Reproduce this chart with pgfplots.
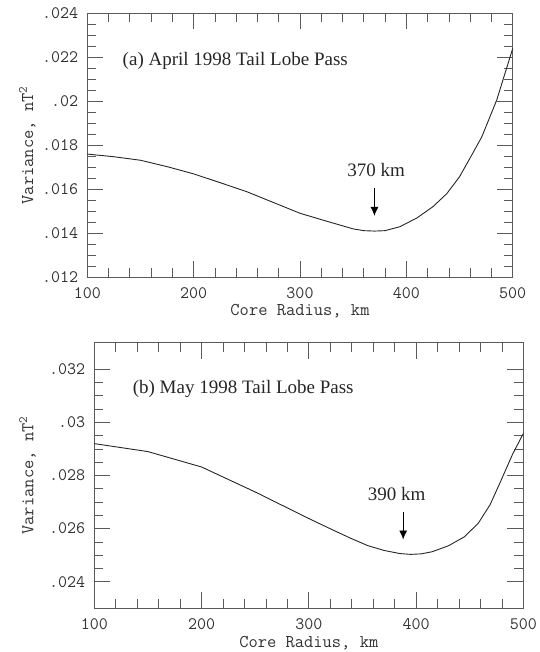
\documentclass[border=0pt]{standalone}
\usepackage{fontspec}
\setmainfont{Liberation Serif}
\usepackage{pgfplots}
\pgfplotsset{compat=1.18}
\usetikzlibrary{arrows.meta}

\definecolor{axgray}{HTML}{5A5A5A}
\definecolor{txtgray}{HTML}{333333}

\pgfplotstableread{
r var
100 .01760
125 .01748
150 .01732
175 .01703
200 .01670
225 .01630
250 .01589
275 .01540
300 .01491
325 .01455
350 .01420
360 .01412
370 .01410
380 .01412
394 .01430
410 .01470
425 .01521
438 .01580
450 .01657
462 .01760
471 .01839
485 .02006
500 .02240
}\aprdata

\pgfplotstableread{
r var
100 .02920
150 .02890
200 .02832
225 .02785
250 .02738
275 .02688
300 .02638
325 .02590
340 .02562
355 .02536
370 .02518
385 .02506
395 .02503
405 .02505
415 .02513
430 .02535
445 .02569
458 .02620
469 .02690
478 .02770
490 .02880
500 .02958
}\maydata

\pgfplotsset{
  panel/.style={
    scale only axis,
    xmin=100, xmax=500,
    xtick={100,200,300,400,500},
    minor x tick num=4,
    minor y tick num=3,
    scaled y ticks=false,
    major tick length=16pt,
    minor tick length=9pt,
    axis line style={axgray, line width=0.8pt},
    every tick/.style={axgray, line width=0.7pt},
    /pgf/number format/assume math mode=true,
    tick label style={font=\fontsize{17.5}{19}\ttfamily, text=txtgray, inner sep=0pt},
    xticklabel style={anchor=north, yshift=-10pt},
    yticklabel style={anchor=east, xshift=-9pt},
    label style={font=\fontsize{18}{20}\ttfamily, text=txtgray},
    xlabel={Core Radius, km},
    ylabel={Variance, nT\textsuperscript{2}},
    clip=false,
  },
}

\begin{document}
\begin{tikzpicture}
\begin{axis}[panel,
  at={(87.3pt,374.7pt)}, anchor=south west,
  width=425.4pt, height=264pt,
  ymin=0.012, ymax=0.024,
  ytick={0.012,0.014,0.016,0.018,0.020,0.022,0.024},
  yticklabels={.012,.014,.016,.018,.02,.022,.024},
  xlabel style={at={(axis description cs:0.5,-0.1280)}, anchor=center},
  ylabel style={at={(axis description cs:-0.141,0.5)}, anchor=center},
]
\addplot[black!85, line width=0.9pt] table[x=r, y=var] {\aprdata};
\node[anchor=west, font=\fontsize{19}{21}\selectfont, text=black!85] at (axis cs:130,0.02183) {(a) April 1998 Tail Lobe Pass};
\node[font=\fontsize{19}{21}\selectfont, text=black!85] at (axis cs:371.5,0.01688) {370 km};
\draw[black, line width=0.9pt, -{Latex[length=9pt,width=8pt]}] (axis cs:370,0.01606) -- (axis cs:370,0.01479);
\end{axis}

\begin{axis}[panel,
  at={(94.3pt,43.7pt)}, anchor=south west,
  width=429pt, height=265.6pt,
  ymin=0.023, ymax=0.033,
  ytick={0.024,0.026,0.028,0.030,0.032},
  yticklabels={.024,.026,.028,.03,.032},
  xlabel style={at={(axis description cs:0.5,-0.1318)}, anchor=center},
  ylabel style={at={(axis description cs:-0.1557,0.5)}, anchor=center},
]
\addplot[black!85, line width=0.9pt] table[x=r, y=var] {\maydata};
\node[anchor=west, font=\fontsize{19}{21}\selectfont, text=black!85] at (axis cs:132.6,0.03127) {(b) May 1998 Tail Lobe Pass};
\node[font=\fontsize{19}{21}\selectfont, text=black!85] at (axis cs:382,0.02732) {390 km};
\draw[black, line width=0.9pt, -{Latex[length=9pt,width=8pt]}] (axis cs:388,0.02663) -- (axis cs:388,0.02559);
\end{axis}

\pgfresetboundingbox
\path (0pt,0pt) rectangle (539pt,652pt);
\end{tikzpicture}
\end{document}
